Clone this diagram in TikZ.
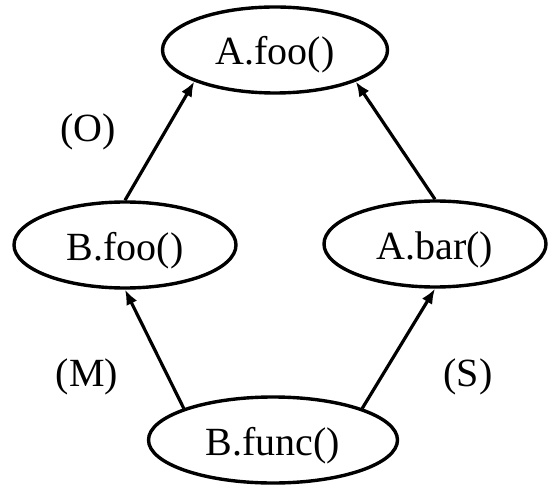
\documentclass[tikz,border=0pt]{standalone}
\usepackage{fontspec}
\setmainfont{Liberation Serif}
\usetikzlibrary{shapes.geometric,arrows.meta}
\tikzset{
  meth/.style={ellipse, draw, line width=3.4pt, inner sep=0pt,
    minimum height=86pt, text height=30pt, text depth=0pt,
    font=\fontsize{40}{48}\selectfont},
  lbl/.style={inner sep=0pt, font=\fontsize{40}{48}\selectfont},
  edge/.style={line width=3.2pt, -{Latex[length=15pt,width=12pt]}}
}
\begin{document}
\begin{tikzpicture}[x=1pt,y=-1pt]
\useasboundingbox (0,0) rectangle (548,486);
\node[meth, minimum width=225pt] (afoo) at (275,50) {A.foo()};
\node[meth, minimum width=222pt] (bfoo) at (125,245) {B.foo()};
\node[meth, minimum width=222pt] (abar) at (435,244) {A.bar()};
\node[meth, minimum width=249pt] (bfunc) at (273,440) {B.func()};
\node[lbl] (lo) at (88,132) {(O)};
\node[lbl] (lm) at (87,377) {(M)};
\node[lbl] (ls) at (468,377) {(S)};
\draw[edge] (bfoo.north) -- (afoo.south west);
\draw[edge] (abar.north) -- (afoo.south east);
\draw[edge] (bfunc.north west) -- (bfoo.south);
\draw[edge] (bfunc.north east) -- (abar.south);
\end{tikzpicture}
\end{document}
